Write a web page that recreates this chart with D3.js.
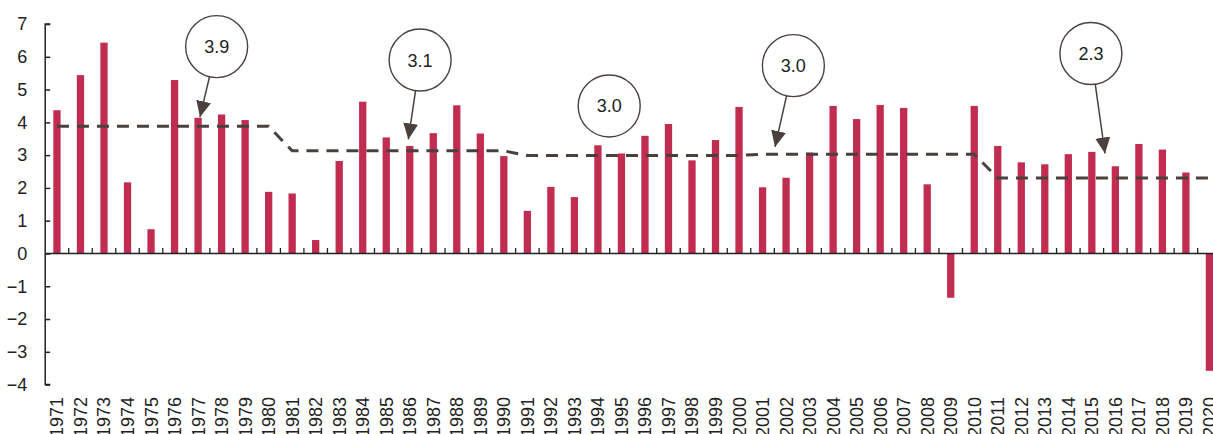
<!DOCTYPE html>
<html>
<head>
<meta charset="utf-8">
<script src="https://cdn.jsdelivr.net/npm/d3@7"></script>
<style>
  body { margin: 0; background: #fff; }
  svg { display: block; font-family: "Liberation Sans", Arial, sans-serif; }
</style>
</head>
<body>
<svg width="1213" height="434"></svg>
<script>
// data
var years = d3.range(1971, 2021);
var growth = [
  4.37, 5.44, 6.43, 2.17, 0.74, 5.29, 4.14, 4.24, 4.07, 1.88,
  1.83, 0.41, 2.82, 4.63, 3.54, 3.28, 3.67, 4.52, 3.66, 2.97,
  1.30, 2.03, 1.72, 3.30, 3.05, 3.59, 3.95, 2.84, 3.46, 4.47,
  2.02, 2.31, 3.08, 4.50, 4.10, 4.53, 4.44, 2.11, -1.35, 4.50,
  3.28, 2.78, 2.72, 3.03, 3.10, 2.66, 3.34, 3.17, 2.47, -3.58
];

// decade averages (dashed line)
var avgYears  = [1971, 1980, 1981, 1990, 1991, 2000, 2001, 2010, 2011, 2020];
var avgValues = [3.88, 3.88, 3.13, 3.13, 2.99, 2.99, 3.03, 3.03, 2.30, 2.30];

var yTicks = [-4, -3, -2, -1, 0, 1, 2, 3, 4, 5, 6, 7];

// callouts: bubble centre and arrow tip, in year / value units
var annLabels = ["3.9", "3.1", "3.0", "3.0", "2.3"];
var annX = [1977.79, 1986.44, 1994.48, 2002.31, 2014.96];
var annY = [6.31, 5.90, 4.50, 5.73, 6.10];
var tipX = [1977.08, 1985.94, null, 2001.53, 2015.56];
var tipY = [4.16, 3.48, null, 3.25, 3.05];

var barColour = "#c12d51",
    inkColour = "#4a403d";

var svg = d3.select("svg");
var x0 = 45.2, step = 23.52;

// scales, etc.
var xScale = d3.scaleBand()
    .domain(years)
    .range([x0, x0 + step * years.length])
    .paddingInner(0.69)
    .paddingOuter(0.345);

var xLin = d3.scaleLinear()
    .domain([1970.5, 2020.5])
    .range([x0, x0 + step * years.length]);

var yScale = d3.scaleLinear()
    .domain([-4, 7])
    .range([384.6, 24]);

// bars
svg.append("g").selectAll("rect")
    .data(years)
    .enter()
    .append("rect")
        .attr("x", function(d) { return xScale(d); })
        .attr("width", xScale.bandwidth())
        .attr("y", function(d, i) { return yScale(Math.max(0, growth[i])); })
        .attr("height", function(d, i) { return Math.abs(yScale(growth[i]) - yScale(0)); })
        .attr("fill", barColour);

// y axis
var yAxis = svg.append("g")
    .attr("transform", "translate(" + x0 + ",0)")
    .call(d3.axisRight(yScale)
        .tickValues(yTicks)
        .tickSize(5)
        .tickFormat(d3.format("d")));
yAxis.select(".domain").attr("d", "M5," + yScale(7) + "H0V" + yScale(-4) + "H5")
    .attr("stroke", "#222").attr("stroke-width", 1.5);
yAxis.selectAll(".tick line").attr("stroke", "#222").attr("stroke-width", 1.5);
yAxis.selectAll(".tick text")
    .attr("x", -18)
    .attr("text-anchor", "end")
    .attr("fill", "#222")
    .style("font-size", "18px");

// x axis along zero
var xAxis = svg.append("g")
    .attr("transform", "translate(0," + yScale(0) + ")");
xAxis.append("line")
    .attr("x1", x0).attr("x2", x0 + step * years.length)
    .attr("stroke", "#222").attr("stroke-width", 1.5);
xAxis.selectAll("line.tk")
    .data(years.slice(1))
    .enter()
    .append("line")
        .attr("class", "tk")
        .attr("x1", function(d) { return xLin(d - 0.5); })
        .attr("x2", function(d) { return xLin(d - 0.5); })
        .attr("y1", 0).attr("y2", -5.5)
        .attr("stroke", "#222").attr("stroke-width", 1.3);

// year labels, rotated
svg.append("g").selectAll("text")
    .data(years)
    .enter()
    .append("text")
        .attr("transform", function(d) {
            return "translate(" + xLin(d) + ",397) rotate(-90)";
        })
        .attr("dy", "0.36em")
        .attr("text-anchor", "end")
        .attr("fill", "#222")
        .style("font-size", "18px")
        .text(function(d) { return d; });

// dashed average line
svg.append("path")
    .datum(avgYears)
    .attr("fill", "none")
    .attr("stroke", inkColour)
    .attr("stroke-width", 3)
    .attr("stroke-dasharray", "12,8")
    .attr("d", d3.line()
        .x(function(d) { return xLin(d); })
        .y(function(d, i) { return yScale(avgValues[i]); })
    );

// arrow head
svg.append("defs").append("marker")
    .attr("id", "head")
    .attr("markerUnits", "userSpaceOnUse")
    .attr("viewBox", "0 0 16 15")
    .attr("refX", 16).attr("refY", 7.5)
    .attr("markerWidth", 16).attr("markerHeight", 15)
    .attr("orient", "auto")
    .append("path")
        .attr("d", "M0,0L16,7.5L0,15Z")
        .attr("fill", inkColour);

// callout bubbles
var r = 31;
annLabels.forEach(function(lab, i) {
    var cx = xLin(annX[i]), cy = yScale(annY[i]);
    if (tipX[i] !== null) {
        var tx = xLin(tipX[i]), ty = yScale(tipY[i]);
        var a = Math.atan2(ty - cy, tx - cx);
        svg.append("line")
            .attr("x1", cx + r * Math.cos(a)).attr("y1", cy + r * Math.sin(a))
            .attr("x2", tx).attr("y2", ty)
            .attr("stroke", inkColour)
            .attr("stroke-width", 1.5)
            .attr("marker-end", "url(#head)");
    }
    svg.append("circle")
        .attr("cx", cx).attr("cy", cy).attr("r", r)
        .attr("fill", "#fff")
        .attr("stroke", inkColour)
        .attr("stroke-width", 1.4);
    svg.append("text")
        .attr("x", cx).attr("y", cy)
        .attr("dy", "0.36em")
        .attr("text-anchor", "middle")
        .attr("fill", "#222")
        .style("font-size", "18px")
        .text(lab);
});
</script>
</body>
</html>
